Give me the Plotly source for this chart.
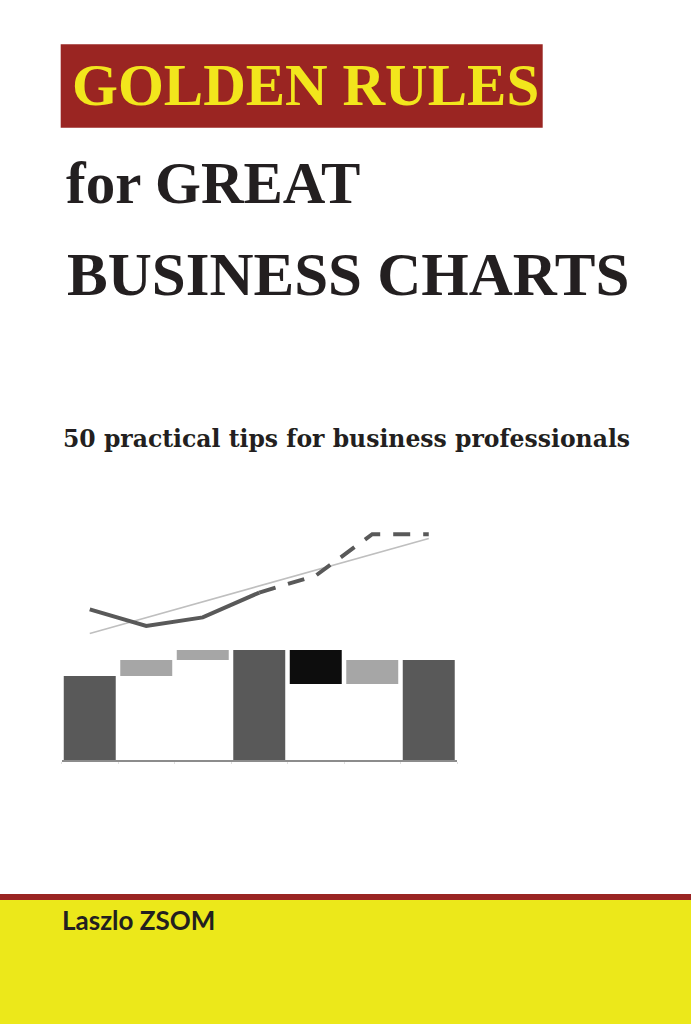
"""Book cover: 'Golden Rules for Great Business Charts' - waterfall with trend line."""
import plotly.graph_objects as go

W, H = 691, 1024

# --- data --------------------------------------------------------------
categories = ["Start", "P1", "P2", "Mid", "P3", "P4", "End"]
bar_values = [42, 8, 5, 55, -17, 12, 50]
bar_measures = ["absolute", "relative", "relative", "total",
                "relative", "relative", "total"]
line_values = [75.3, 67, 71.3, 83.7, 92.2, 112.9, 112.9]
actual_count = 4            # first 4 points solid, rest dashed (forecast)
trend_categories = ["Start", "End"]
trend_values = [63.3, 110.8]

# --- colours --------------------------------------------------------------
DARK = "#595959"
LIGHT = "#a6a6a6"
BLACK = "#0d0d0d"
RED = "#9a2522"
YELLOW = "#ece81a"
TITLE_YELLOW = "#f2e61c"
INK = "#231f20"


def px_x(x):
    return x / W


def px_y(y):
    return 1 - y / H


fig = go.Figure()

fig.add_trace(go.Waterfall(
    x=categories, y=bar_values, measure=bar_measures,
    increasing=dict(marker=dict(color=LIGHT)),
    decreasing=dict(marker=dict(color=BLACK)),
    totals=dict(marker=dict(color=DARK)),
    connector=dict(visible=False),
    hoverinfo="skip", showlegend=False,
))

fig.add_trace(go.Scatter(
    x=trend_categories, y=trend_values, mode="lines",
    line=dict(color="#bfbfbf", width=1.6),
    hoverinfo="skip", showlegend=False,
))
fig.add_trace(go.Scatter(
    x=categories[:actual_count], y=line_values[:actual_count], mode="lines",
    line=dict(color=DARK, width=4),
    hoverinfo="skip", showlegend=False,
))
fig.add_trace(go.Scatter(
    x=categories[actual_count - 1:], y=line_values[actual_count - 1:],
    mode="lines",
    line=dict(color=DARK, width=4, dash="17px,13px"),
    hoverinfo="skip", showlegend=False,
))

# background blocks
shapes = [
    dict(type="rect", xref="paper", yref="paper",
         x0=px_x(60.7), x1=px_x(542.7), y0=px_y(127.7), y1=px_y(44.3),
         fillcolor=RED, line=dict(width=0), layer="below"),
    dict(type="rect", xref="paper", yref="paper",
         x0=0, x1=1, y0=px_y(900), y1=px_y(894),
         fillcolor=RED, line=dict(width=0), layer="below"),
    dict(type="rect", xref="paper", yref="paper",
         x0=0, x1=1, y0=0, y1=px_y(900),
         fillcolor=YELLOW, line=dict(width=0), layer="below"),
]

serif = "Liberation Serif, Times New Roman, serif"
annotations = [
    dict(text="<b>GOLDEN RULES</b>", x=px_x(305), y=px_y(85),
         font=dict(family=serif, size=59, color=TITLE_YELLOW)),
    dict(text="<b>for GREAT</b>", x=px_x(212.5), y=px_y(183),
         font=dict(family=serif, size=59, color=INK)),
    dict(text="<b>BUSINESS CHARTS</b>", x=px_x(347.5), y=px_y(274),
         font=dict(family=serif, size=61, color=INK)),
    dict(text="<b>50 practical tips for business professionals</b>",
         x=px_x(346), y=px_y(439),
         font=dict(family="DejaVu Serif, serif", size=23.5, color=INK)),
    dict(text="<b>Laszlo ZSOM</b>", x=px_x(138.3), y=px_y(919.5),
         font=dict(family="Lato, sans-serif", size=26, color=INK)),
]
for a in annotations:
    a.update(xref="paper", yref="paper", xanchor="center", yanchor="middle",
             showarrow=False)

fig.update_layout(
    width=W, height=H,
    margin=dict(l=0, r=0, t=0, b=0),
    paper_bgcolor="white", plot_bgcolor="rgba(0,0,0,0)",
    waterfallgap=0.08,
    shapes=shapes, annotations=annotations,
    xaxis=dict(domain=[px_x(61.5), px_x(457)], type="category",
               categoryorder="array", categoryarray=categories,
               showgrid=False, zeroline=False, showticklabels=False,
               showline=True, linecolor="#8c8c8c", linewidth=1.5,
               ticks="outside", tickson="boundaries", ticklen=2,
               tickcolor="#e0e0e0"),
    yaxis=dict(domain=[px_y(760), px_y(510)], range=[0, 125],
               showgrid=False, zeroline=False, showticklabels=False,
               showline=False),
)

fig.write_html("out.html", config={"displayModeBar": False},
               post_script="document.body.style.margin='0';")
